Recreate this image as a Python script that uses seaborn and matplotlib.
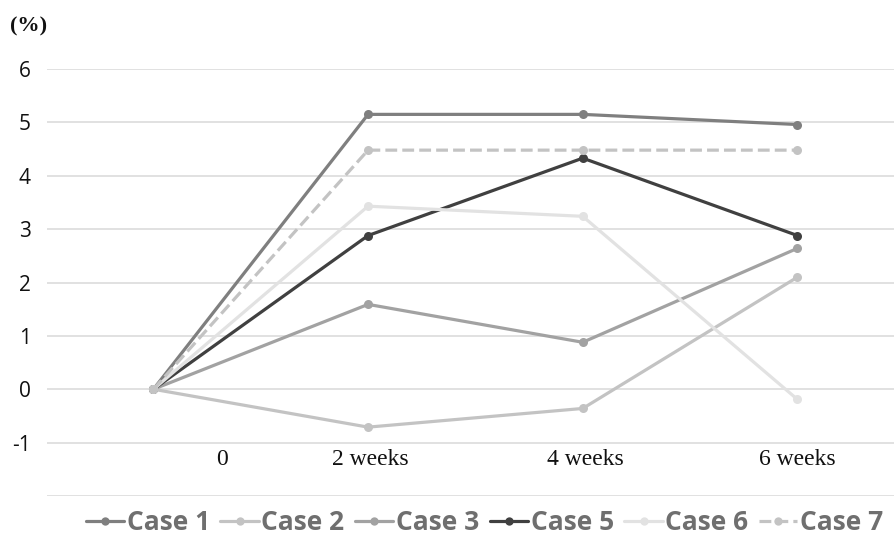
import pandas as pd
import numpy as np
import matplotlib.pyplot as plt
import seaborn as sns

# data
times = ["0", "2 weeks", "4 weeks", "6 weeks"]
case1 = [0, 5.15, 5.15, 4.96]
case2 = [0, -0.71, -0.36, 2.10]
case3 = [0, 1.59, 0.88, 2.64]
case5 = [0, 2.88, 4.33, 2.88]
case6 = [0, 3.43, 3.24, -0.19]
case7 = [0, 4.48, 4.48, 4.48]

cases = ["Case 1", "Case 2", "Case 3", "Case 5", "Case 6", "Case 7"]
values = [case1, case2, case3, case5, case6, case7]
colors = ["#7f7f7f", "#c3c3c3", "#a2a2a2", "#404040", "#e2e2e2", "#c3c3c3"]
styles = ["-", "-", "-", "-", "-", "--"]

rows = []
for c, v in zip(cases, values):
    for i, t in enumerate(times):
        rows.append({"case": c, "pos": i, "time": t, "value": v[i]})
df = pd.DataFrame(rows)

sns.set_style("white")
plt.rcParams["font.family"] = ["Open Sans", "DejaVu Sans"]

fig = plt.figure(figsize=(8.94, 5.46), dpi=100)
ax = fig.add_axes([0.053, 0.0916, 0.947, 0.782])

for c, col, ls in zip(cases, colors, styles):
    sub = df[df["case"] == c]
    sns.lineplot(data=sub, x="pos", y="value", ax=ax, color=col, linewidth=2.3,
                 linestyle=ls, marker="o", markersize=6.5, markeredgewidth=0,
                 label=c, legend=False)

ax.set_ylim(-2, 6)
ax.set_xlim(-0.494, 3.45)
ax.set_yticks(range(-2, 7))
ax.yaxis.grid(True, color="#dcdcdc", linewidth=1.2)
ax.set_axisbelow(True)
ax.set_yticklabels([""] + [str(v) for v in range(-1, 7)], fontsize=15, color="#111111")
ax.tick_params(axis="y", length=0, pad=12)
ax.set_xticks([])
ax.set_xlabel("")
ax.set_ylabel("")
for s in ax.spines.values():
    s.set_visible(False)

# category labels sit between the -1 and -2 gridlines
label_x = [0.32, 1.01, 2.01, 3.0]
for lx, t in zip(label_x, times):
    ax.text(lx, -1.31, t, ha="center", va="center", fontsize=17,
            family="Liberation Serif", color="#111111")

fig.text(0.011, 0.952, "(%)", fontsize=16, fontweight="bold",
         family="Liberation Serif", color="#111111", va="center")

handles = [plt.Line2D([], [], color=col, linestyle=ls, linewidth=2.3, marker="o",
                      markersize=6, markeredgewidth=0)
           for col, ls in zip(colors, styles)]
leg = fig.legend(handles, cases, loc="center", bbox_to_anchor=(0.542, 0.043), ncol=6,
                 frameon=False, handlelength=1.45, handletextpad=0.1, columnspacing=0.4,
                 prop={"family": "Open Sans", "weight": "bold", "size": 19})
for t in leg.get_texts():
    t.set_color("#6f6f6f")

fig.savefig("out.png", dpi=100)
